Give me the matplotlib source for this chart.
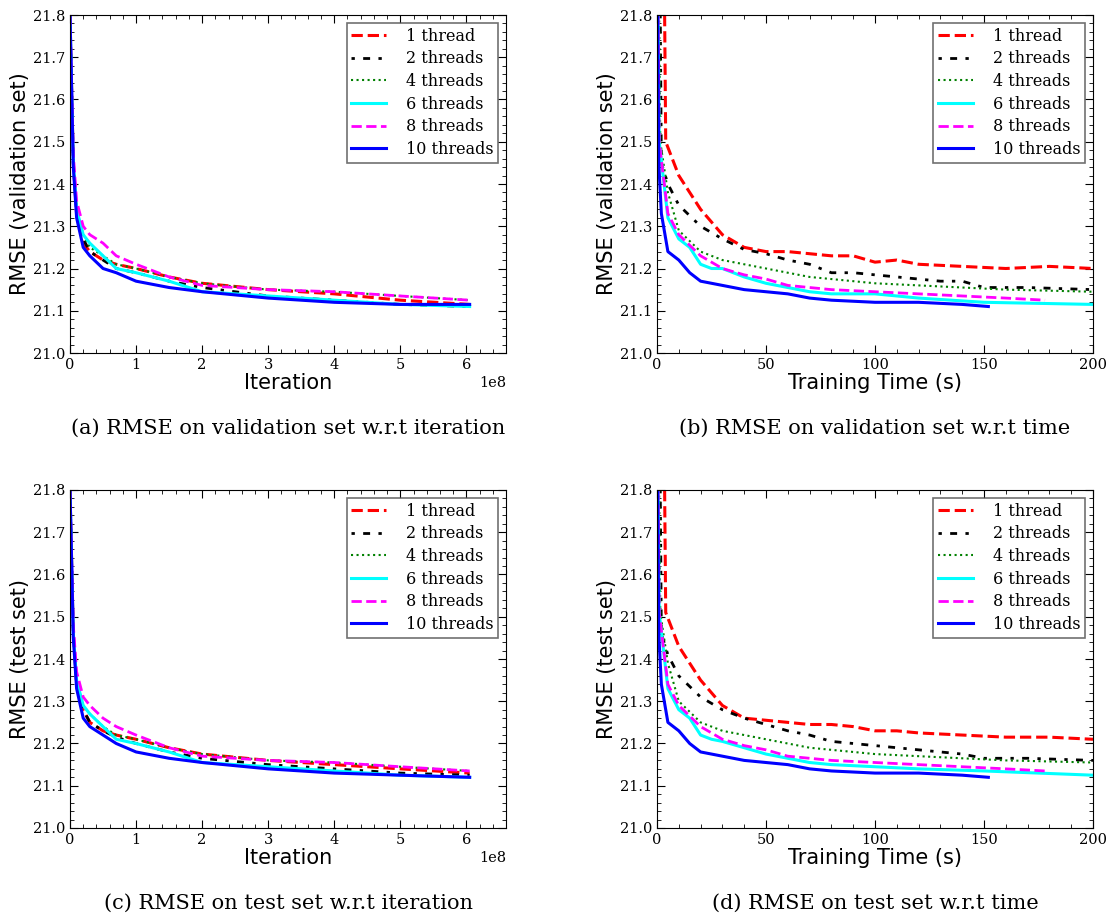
import matplotlib
matplotlib.use("Agg")
import matplotlib.pyplot as plt
from matplotlib.ticker import AutoMinorLocator

labels = ["1 thread", "2 threads", "4 threads", "6 threads", "8 threads", "10 threads"]
colors = ["red", "black", "green", "cyan", "magenta", "blue"]
styles = ["--", (0, (1.2, 3, 2.5, 3)), ":", "-", "--", "-"]
widths = [2.2, 2.0, 1.5, 2.2, 2.0, 2.2]

# iteration axis (units 1e8)
it_x = [0, 0.05, 0.1, 0.2, 0.3, 0.5, 0.7, 1, 1.5, 2, 3, 4, 5, 6.05]
val_it = [
    [21.8, 21.45, 21.33, 21.26, 21.24, 21.22, 21.21, 21.2, 21.18, 21.165, 21.15, 21.14, 21.125, 21.115],
    [21.8, 21.45, 21.33, 21.27, 21.24, 21.22, 21.2, 21.19, 21.17, 21.155, 21.135, 21.125, 21.115, 21.11],
    [21.8, 21.46, 21.34, 21.28, 21.25, 21.23, 21.21, 21.2, 21.18, 21.165, 21.15, 21.145, 21.135, 21.125],
    [21.8, 21.45, 21.34, 21.28, 21.26, 21.23, 21.2, 21.19, 21.17, 21.145, 21.135, 21.125, 21.115, 21.11],
    [21.8, 21.47, 21.36, 21.3, 21.28, 21.26, 21.23, 21.21, 21.18, 21.16, 21.15, 21.145, 21.135, 21.125],
    [21.8, 21.44, 21.32, 21.25, 21.23, 21.2, 21.19, 21.17, 21.155, 21.145, 21.13, 21.12, 21.115, 21.115],
]
test_it = [
    [21.8, 21.46, 21.34, 21.28, 21.25, 21.23, 21.22, 21.21, 21.19, 21.175, 21.16, 21.15, 21.14, 21.13],
    [21.8, 21.46, 21.34, 21.28, 21.25, 21.23, 21.215, 21.2, 21.18, 21.165, 21.15, 21.14, 21.13, 21.125],
    [21.8, 21.47, 21.35, 21.29, 21.27, 21.24, 21.22, 21.21, 21.19, 21.175, 21.16, 21.155, 21.145, 21.135],
    [21.8, 21.46, 21.35, 21.29, 21.27, 21.24, 21.21, 21.2, 21.18, 21.155, 21.145, 21.135, 21.125, 21.12],
    [21.8, 21.48, 21.37, 21.31, 21.29, 21.26, 21.24, 21.22, 21.19, 21.17, 21.16, 21.155, 21.145, 21.135],
    [21.8, 21.45, 21.33, 21.26, 21.24, 21.22, 21.2, 21.18, 21.165, 21.155, 21.14, 21.13, 21.125, 21.12],
]

# time axis (s)
t_x = [
    [3.5, 4, 10, 20, 30, 40, 50, 60, 70, 80, 90, 100, 110, 120, 140, 160, 180, 200],
    [1.5, 2, 5, 10, 20, 30, 40, 50, 60, 70, 80, 90, 100, 110, 120, 130, 140, 150, 170, 200],
    [1, 1.5, 5, 10, 20, 30, 40, 50, 60, 70, 80, 100, 120, 140, 160, 200],
    [0.5, 1, 5, 10, 15, 20, 25, 30, 40, 50, 60, 70, 80, 100, 120, 150, 200],
    [0.5, 1, 5, 10, 20, 30, 40, 50, 60, 70, 80, 100, 120, 140, 160, 178],
    [0.3, 0.8, 2, 5, 10, 15, 20, 30, 40, 50, 60, 70, 80, 100, 120, 140, 152],
]
val_t = [
    [21.8, 21.5, 21.42, 21.34, 21.28, 21.25, 21.24, 21.24, 21.235, 21.23, 21.23, 21.215, 21.22, 21.21, 21.205, 21.2, 21.205, 21.2],
    [21.8, 21.45, 21.40, 21.35, 21.3, 21.27, 21.245, 21.235, 21.22, 21.21, 21.19, 21.19, 21.185, 21.18, 21.175, 21.17, 21.17, 21.155, 21.155, 21.15],
    [21.8, 21.5, 21.38, 21.29, 21.24, 21.22, 21.21, 21.2, 21.19, 21.18, 21.175, 21.165, 21.16, 21.155, 21.15, 21.145],
    [21.8, 21.5, 21.32, 21.27, 21.25, 21.21, 21.2, 21.2, 21.18, 21.165, 21.155, 21.145, 21.14, 21.14, 21.13, 21.12, 21.115],
    [21.8, 21.5, 21.33, 21.28, 21.23, 21.2, 21.185, 21.175, 21.16, 21.155, 21.15, 21.145, 21.14, 21.135, 21.13, 21.125],
    [21.8, 21.45, 21.33, 21.24, 21.22, 21.19, 21.17, 21.16, 21.15, 21.145, 21.14, 21.13, 21.125, 21.12, 21.12, 21.115, 21.11],
]
test_t = [
    [21.8, 21.51, 21.43, 21.35, 21.29, 21.26, 21.255, 21.25, 21.245, 21.245, 21.24, 21.23, 21.23, 21.225, 21.22, 21.215, 21.215, 21.21],
    [21.8, 21.46, 21.41, 21.36, 21.31, 21.28, 21.26, 21.245, 21.23, 21.22, 21.205, 21.2, 21.195, 21.19, 21.185, 21.18, 21.175, 21.165, 21.165, 21.16],
    [21.8, 21.51, 21.39, 21.3, 21.25, 21.23, 21.22, 21.21, 21.2, 21.19, 21.185, 21.175, 21.17, 21.165, 21.16, 21.155],
    [21.8, 21.51, 21.33, 21.28, 21.26, 21.22, 21.21, 21.205, 21.19, 21.175, 21.165, 21.155, 21.15, 21.145, 21.14, 21.135, 21.125],
    [21.8, 21.51, 21.34, 21.29, 21.24, 21.21, 21.195, 21.185, 21.17, 21.165, 21.16, 21.155, 21.15, 21.145, 21.14, 21.135],
    [21.8, 21.46, 21.34, 21.25, 21.23, 21.2, 21.18, 21.17, 21.16, 21.155, 21.15, 21.14, 21.135, 21.13, 21.13, 21.125, 21.12],
]

captions = ["(a) RMSE on validation set w.r.t iteration", "(b) RMSE on validation set w.r.t time",
            "(c) RMSE on test set w.r.t iteration", "(d) RMSE on test set w.r.t time"]

fig = plt.figure(figsize=(11.09, 9.13), dpi=100)
W, H = 1109, 913
boxes = [(70, 15), (657, 15), (70, 490), (657, 490)]
aw, ah = 436, 338
serif = "DejaVu Serif"

for k, (bx, by) in enumerate(boxes):
    ax = fig.add_axes([bx / W, 1 - (by + ah) / H, aw / W, ah / H])
    is_time = k % 2 == 1
    ys = [val_it, val_t, test_it, test_t][k]
    for i in range(6):
        xs = t_x[i] if is_time else [v * 1e8 for v in it_x]
        ax.plot(xs, ys[i], color=colors[i], ls=styles[i], lw=widths[i], label=labels[i])
    ax.set_ylim(21.0, 21.8)
    if is_time:
        ax.set_xlim(0, 200)
        ax.set_xticks([0, 50, 100, 150, 200])
        ax.set_xlabel("Training Time (s)", fontsize=15, labelpad=1)
    else:
        ax.set_xlim(0, 6.6e8)
        ax.set_xticks([0, 1e8, 2e8, 3e8, 4e8, 5e8, 6e8])
        ax.set_xlabel("Iteration", fontsize=15, labelpad=1)
    ax.set_yticks([21.0 + 0.1 * j for j in range(9)])
    ax.set_yticklabels([f"{21.0 + 0.1 * j:.1f}" for j in range(9)], family=serif, fontsize=10.5)
    ax.xaxis.set_minor_locator(AutoMinorLocator(5))
    ax.yaxis.set_minor_locator(AutoMinorLocator(5))
    ax.tick_params(which="both", direction="in", top=True, right=True, labelsize=10.5)
    ax.tick_params(which="major", length=6)
    ax.tick_params(which="minor", length=3)
    for lab in ax.get_xticklabels():
        lab.set_family(serif)
    ax.xaxis.get_offset_text().set_family(serif)
    ax.xaxis.get_offset_text().set_fontsize(10.5)
    ax.set_ylabel("RMSE (validation set)" if k < 2 else "RMSE (test set)", fontsize=15, labelpad=2)
    leg = ax.legend(loc="upper right", fancybox=False, edgecolor="0.3",
                    handlelength=2.2, borderpad=0.3, labelspacing=0.35, handletextpad=1.2,
                    prop={"family": serif, "size": 11.5})
    leg.get_frame().set_linewidth(1.2)
    fig.text((bx + aw / 2) / W, 1 - (by + ah + 75) / H, captions[k], ha="center", va="center",
             family=serif, fontsize=15)

fig.savefig("out.png", dpi=100)
